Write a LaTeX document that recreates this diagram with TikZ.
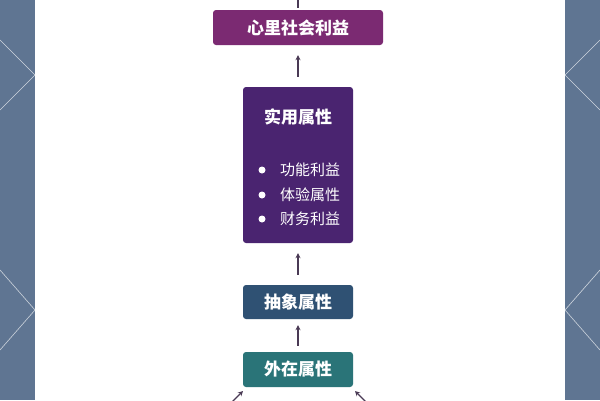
\documentclass[tikz,border=0pt]{standalone}
\usepackage{fontspec}
\usetikzlibrary{arrows.meta}
\newfontfamily\cjk{Noto Sans CJK SC}
\definecolor{c1}{HTML}{7B2A72}
\definecolor{c2}{HTML}{4A2470}
\definecolor{c3}{HTML}{2F5173}
\definecolor{c4}{HTML}{2A7478}
\definecolor{side}{HTML}{5F7592}
\definecolor{arr}{HTML}{4A3A55}
\begin{document}
\begin{tikzpicture}[x=1pt,y=-1pt,
  box/.style={rounded corners=3pt,text=white,font=\cjk\bfseries\fontsize{17}{20}\selectfont,inner sep=0pt},
  conn/.style={draw=arr,line width=1.1pt,-{Stealth[length=5pt,width=5pt]},shorten >=10pt,shorten <=10pt}]
\useasboundingbox (0,0) rectangle (600,400);
\fill[white] (0,0) rectangle (600,400);
\fill[side] (0,0) rectangle (35,400);
\fill[side] (565,0) rectangle (600,400);
\draw[white!70!side,line width=0.6pt] (0,40)--(35,75) (0,110)--(35,75) (0,270)--(35,310) (0,350)--(35,310)
  (600,40)--(565,75) (600,110)--(565,75) (600,270)--(565,310) (600,350)--(565,310);
\node[box,fill=c1,minimum width=170pt,minimum height=35pt] (a) at (298,27.5) {心里社会利益};
\node[box,fill=c2,minimum width=110pt,minimum height=156pt] (b) at (298,165) {};
\node[text=white,font=\cjk\bfseries\fontsize{17}{20}\selectfont] (bt) at (298,117) {实用属性};
\foreach \t/\y/\n in {功能利益/170/p1,体验属性/195/p2,财务利益/219/p3}{
  \fill[white] (262,\y) circle (3.5pt);
  \node[anchor=west,text=white,font=\cjk\fontsize{15}{18}\selectfont,inner sep=0pt] (\n) at (280,\y) {\t};
}
\node[box,fill=c3,minimum width=110pt,minimum height=34pt] (c) at (298,302) {抽象属性};
\node[box,fill=c4,minimum width=110pt,minimum height=35pt] (d) at (298,369.5) {外在属性};
\coordinate (top) at (298,-8);
\coordinate (l) at (230,404);
\coordinate (r) at (368,404);
\coordinate (lt) at (243,391);
\coordinate (rt) at (355,391);
\draw[conn,shorten <=2pt,shorten >=2pt] (a.north) -- (top);
\draw[conn] (b.north) -- (a.south);
\draw[conn] (c.north) -- (b.south);
\draw[conn,shorten <=6pt,shorten >=6pt] (d.north) -- (c.south);
\draw[conn,shorten <=0pt,shorten >=0pt] (l) -- (lt);
\draw[conn,shorten <=0pt,shorten >=0pt] (r) -- (rt);
\end{tikzpicture}
\end{document}
